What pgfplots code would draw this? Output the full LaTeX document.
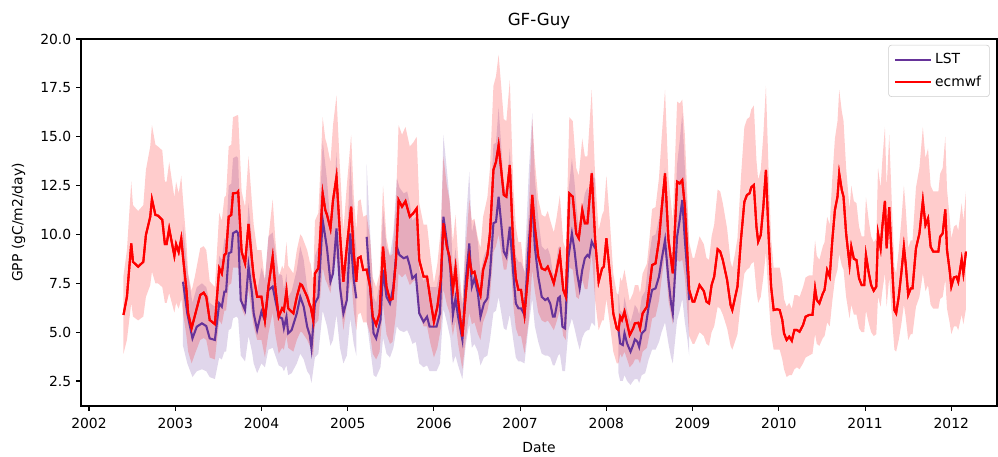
\documentclass[border=0pt]{standalone}
\usepackage{fontspec}
\setmainfont{DejaVu Sans}
\usepackage{pgfplots}
\usepackage{pgfplotstable}
\pgfplotsset{compat=1.18}
\definecolor{lstcol}{HTML}{663399}
\definecolor{ecred}{HTML}{FF0000}

\pgfplotstableread{
x v
2002.40 5.88
2002.44 6.81
2002.49 9.54
2002.51 8.60
2002.57 8.35
2002.63 8.60
2002.66 9.97
2002.71 10.90
2002.73 11.80
2002.77 11.00
2002.80 10.96
2002.85 10.74
2002.88 9.50
2002.90 9.50
2002.93 10.30
2002.99 8.90
2003.01 9.50
2003.04 9.10
2003.07 9.80
2003.09 8.86
2003.13 7.15
2003.15 5.96
2003.19 5.20
2003.23 5.88
2003.29 6.90
2003.33 7.02
2003.36 6.81
2003.40 5.62
2003.46 5.41
2003.51 8.27
2003.54 8.00
2003.57 8.95
2003.59 9.03
2003.62 10.90
2003.65 11.00
2003.67 12.10
2003.72 12.13
2003.73 12.19
2003.77 9.12
2003.81 8.52
2003.85 10.53
2003.89 8.69
2003.91 7.84
2003.95 6.81
2004.00 6.81
2004.04 5.62
2004.08 7.32
2004.13 8.86
2004.16 7.32
2004.20 5.79
2004.24 6.22
2004.26 6.10
2004.29 7.12
2004.31 6.22
2004.37 5.96
2004.41 6.81
2004.45 7.46
2004.47 7.40
2004.53 6.81
2004.56 6.39
2004.57 6.30
2004.60 5.62
2004.62 8.00
2004.66 8.27
2004.71 12.10
2004.74 11.25
2004.76 11.00
2004.80 10.30
2004.83 11.76
2004.87 12.95
2004.91 10.06
2004.95 7.58
2004.99 9.37
2005.04 11.42
2005.07 9.03
2005.10 7.58
2005.12 8.78
2005.15 8.86
2005.18 8.18
2005.22 8.20
2005.26 7.32
2005.29 5.79
2005.33 5.37
2005.37 5.96
2005.41 9.37
2005.45 7.32
2005.49 6.64
2005.52 6.70
2005.56 8.69
2005.59 11.76
2005.63 11.42
2005.67 11.70
2005.72 10.91
2005.76 11.08
2005.80 11.33
2005.83 8.69
2005.88 7.84
2005.92 7.84
2005.96 6.64
2006.00 5.53
2006.04 6.30
2006.08 7.67
2006.11 10.57
2006.15 9.37
2006.18 8.86
2006.22 7.16
2006.25 8.26
2006.28 6.64
2006.33 4.77
2006.37 6.98
2006.41 8.86
2006.44 8.01
2006.47 8.09
2006.51 7.33
2006.54 6.90
2006.57 8.18
2006.62 8.94
2006.65 10.05
2006.69 13.30
2006.72 13.72
2006.75 14.57
2006.78 13.30
2006.81 12.02
2006.84 11.93
2006.88 13.55
2006.92 9.37
2006.95 7.75
2006.98 7.16
2007.01 7.16
2007.05 5.88
2007.10 8.35
2007.14 12.02
2007.17 10.40
2007.21 8.86
2007.25 8.26
2007.29 8.18
2007.32 8.35
2007.35 8.01
2007.39 7.50
2007.42 8.10
2007.46 9.00
2007.50 7.16
2007.53 6.81
2007.57 12.10
2007.61 11.93
2007.65 10.05
2007.68 9.80
2007.72 11.25
2007.75 10.57
2007.78 10.57
2007.83 13.12
2007.87 9.71
2007.91 7.58
2007.95 8.26
2007.97 8.35
2008.00 9.80
2008.04 8.01
2008.08 5.96
2008.12 5.19
2008.14 5.11
2008.16 5.79
2008.18 5.62
2008.21 6.05
2008.24 5.45
2008.27 4.85
2008.31 5.19
2008.33 5.45
2008.37 5.48
2008.39 5.19
2008.42 5.96
2008.47 6.30
2008.50 7.33
2008.53 8.43
2008.57 8.52
2008.61 9.71
2008.64 11.25
2008.68 13.12
2008.72 9.71
2008.77 8.01
2008.82 12.70
2008.85 12.61
2008.88 12.78
2008.91 11.42
2008.96 7.16
2009.00 6.56
2009.02 6.56
2009.08 7.41
2009.13 7.10
2009.16 6.56
2009.19 6.47
2009.22 7.41
2009.25 7.84
2009.29 9.24
2009.32 9.12
2009.35 8.69
2009.40 7.67
2009.44 6.39
2009.46 6.13
2009.49 6.73
2009.52 7.33
2009.56 9.71
2009.60 11.67
2009.63 12.02
2009.66 12.10
2009.68 12.41
2009.71 12.53
2009.74 10.40
2009.76 9.63
2009.79 9.97
2009.82 11.42
2009.85 13.30
2009.88 10.05
2009.91 7.33
2009.94 6.13
2009.98 6.17
2010.01 6.13
2010.04 5.62
2010.06 4.94
2010.09 4.60
2010.12 4.77
2010.15 4.56
2010.18 5.11
2010.21 5.11
2010.24 5.02
2010.28 5.36
2010.31 5.79
2010.35 5.88
2010.39 5.88
2010.42 7.24
2010.44 6.64
2010.47 6.47
2010.51 6.98
2010.53 7.16
2010.56 8.18
2010.59 7.84
2010.62 9.71
2010.65 11.25
2010.68 11.93
2010.70 13.12
2010.73 12.27
2010.75 11.93
2010.78 10.05
2010.82 8.43
2010.84 9.37
2010.87 8.75
2010.90 8.69
2010.93 7.75
2010.96 7.41
2010.99 7.41
2011.01 8.95
2011.04 8.09
2011.07 7.41
2011.10 7.12
2011.13 7.33
2011.15 10.05
2011.18 9.29
2011.20 10.40
2011.23 11.71
2011.25 9.29
2011.28 11.39
2011.31 8.69
2011.34 6.13
2011.36 5.96
2011.39 6.81
2011.42 8.01
2011.45 9.37
2011.47 8.52
2011.50 6.90
2011.53 7.24
2011.55 7.24
2011.59 9.29
2011.63 10.05
2011.67 11.73
2011.70 10.48
2011.73 10.82
2011.76 9.37
2011.79 9.12
2011.82 9.12
2011.85 9.12
2011.87 9.88
2011.90 10.05
2011.93 11.28
2011.95 9.20
2011.98 8.18
2012.00 7.33
2012.03 7.80
2012.06 7.84
2012.08 7.58
2012.12 8.72
2012.14 8.01
2012.17 9.12
}\ecmwf

% ecmwf uncertainty band: upper edge forward, lower edge backward
\pgfplotstableread{
x y
2002.40 7.9
2002.44 9.2
2002.49 12.7
2002.51 11.5
2002.57 11.2
2002.63 11.5
2002.66 13.3
2002.71 14.5
2002.73 15.6
2002.77 14.6
2002.80 14.5
2002.85 14.3
2002.88 12.7
2002.90 12.7
2002.93 13.7
2002.99 11.9
2003.01 12.7
2003.04 12.1
2003.07 13.0
2003.09 11.8
2003.13 9.6
2003.15 8.0
2003.19 7.1
2003.23 7.9
2003.29 9.3
2003.33 9.4
2003.36 9.2
2003.40 7.6
2003.46 7.3
2003.51 11.1
2003.54 10.7
2003.57 11.9
2003.59 12.0
2003.62 14.5
2003.65 14.6
2003.67 16.0
2003.72 16.1
2003.73 16.1
2003.77 12.2
2003.81 11.4
2003.85 14.0
2003.89 11.6
2003.91 10.5
2003.95 9.2
2004.00 9.2
2004.04 7.6
2004.08 9.8
2004.13 11.8
2004.16 9.8
2004.20 7.8
2004.24 8.4
2004.26 8.2
2004.29 9.6
2004.31 8.4
2004.37 8.0
2004.41 9.2
2004.45 10.0
2004.47 9.9
2004.53 9.2
2004.56 8.6
2004.57 8.5
2004.60 7.6
2004.62 10.7
2004.66 11.1
2004.71 16.0
2004.74 14.9
2004.76 14.6
2004.80 13.7
2004.83 15.6
2004.87 17.1
2004.91 13.4
2004.95 10.2
2004.99 12.5
2005.04 15.1
2005.07 12.0
2005.10 10.2
2005.12 11.7
2005.15 11.8
2005.18 10.9
2005.22 11.0
2005.26 9.8
2005.29 7.8
2005.33 7.3
2005.37 8.0
2005.41 12.5
2005.45 9.8
2005.49 8.9
2005.52 9.0
2005.56 11.6
2005.59 15.6
2005.63 15.1
2005.67 15.5
2005.72 14.5
2005.76 14.7
2005.80 15.0
2005.83 11.6
2005.88 10.5
2005.92 10.5
2005.96 8.9
2006.00 7.5
2006.04 8.5
2006.08 10.3
2006.11 14.0
2006.15 12.5
2006.18 11.8
2006.22 9.6
2006.25 11.0
2006.28 8.9
2006.33 6.5
2006.37 9.4
2006.41 11.8
2006.44 10.7
2006.47 10.8
2006.51 9.8
2006.54 9.3
2006.57 10.9
2006.62 11.9
2006.65 13.4
2006.69 17.6
2006.72 18.1
2006.75 19.2
2006.78 17.6
2006.81 15.9
2006.84 15.8
2006.88 17.9
2006.92 12.5
2006.95 10.4
2006.98 9.6
2007.01 9.6
2007.05 7.9
2007.10 11.2
2007.14 15.9
2007.17 13.8
2007.21 11.8
2007.25 11.0
2007.29 10.9
2007.32 11.2
2007.35 10.7
2007.39 10.1
2007.42 10.8
2007.46 12.0
2007.50 9.6
2007.53 9.2
2007.57 16.0
2007.61 15.8
2007.65 13.4
2007.68 13.0
2007.72 14.9
2007.75 14.0
2007.78 14.0
2007.83 17.4
2007.87 12.9
2007.91 10.2
2007.95 11.0
2007.97 11.2
2008.00 13.0
2008.04 10.7
2008.08 8.0
2008.12 7.0
2008.14 6.9
2008.16 7.8
2008.18 7.6
2008.21 8.2
2008.24 7.4
2008.27 6.6
2008.31 7.0
2008.33 7.4
2008.37 7.4
2008.39 7.0
2008.42 8.0
2008.47 8.5
2008.50 9.8
2008.53 11.3
2008.57 11.4
2008.61 12.9
2008.64 14.9
2008.68 17.4
2008.72 12.9
2008.77 10.7
2008.82 16.8
2008.85 16.7
2008.88 16.9
2008.91 15.1
2008.96 9.6
2009.00 8.8
2009.02 8.8
2009.08 9.9
2009.13 9.5
2009.16 8.8
2009.19 8.7
2009.22 9.9
2009.25 10.5
2009.29 12.3
2009.32 12.2
2009.35 11.6
2009.40 10.3
2009.44 8.6
2009.46 8.3
2009.49 9.0
2009.52 9.8
2009.56 12.9
2009.60 15.5
2009.63 15.9
2009.66 16.0
2009.68 16.4
2009.71 16.6
2009.74 13.8
2009.76 12.8
2009.79 13.3
2009.82 15.1
2009.85 17.6
2009.88 13.4
2009.91 9.8
2009.94 8.3
2009.98 8.3
2010.01 8.3
2010.04 7.6
2010.06 6.7
2010.09 6.3
2010.12 6.5
2010.15 6.2
2010.18 6.9
2010.21 6.9
2010.24 6.8
2010.28 7.3
2010.31 7.8
2010.35 7.9
2010.39 7.9
2010.42 9.7
2010.44 8.9
2010.47 8.7
2010.51 9.4
2010.53 9.6
2010.56 10.9
2010.59 10.5
2010.62 12.9
2010.65 14.9
2010.68 15.8
2010.70 17.4
2010.73 16.3
2010.75 15.8
2010.78 13.4
2010.82 11.3
2010.84 12.5
2010.87 11.7
2010.90 11.6
2010.93 10.4
2010.96 9.9
2010.99 9.9
2011.01 11.9
2011.04 10.8
2011.07 9.9
2011.10 9.6
2011.13 9.8
2011.15 13.4
2011.18 12.4
2011.20 13.8
2011.23 15.5
2011.25 12.4
2011.28 15.1
2011.31 11.6
2011.34 8.3
2011.36 8.0
2011.39 9.2
2011.42 10.7
2011.45 12.5
2011.47 11.4
2011.50 9.3
2011.53 9.7
2011.55 9.7
2011.59 12.4
2011.63 13.4
2011.67 15.5
2011.70 13.9
2011.73 14.4
2011.76 12.5
2011.79 12.2
2011.82 12.2
2011.85 12.2
2011.87 13.1
2011.90 13.4
2011.93 15.0
2011.95 12.3
2011.98 10.9
2012.00 9.8
2012.03 10.4
2012.06 10.5
2012.08 10.2
2012.12 11.6
2012.14 10.7
2012.17 12.2
2012.17 6.2
2012.14 5.4
2012.12 5.9
2012.08 5.1
2012.06 5.3
2012.03 5.3
2012.00 4.9
2011.98 5.5
2011.95 6.2
2011.93 7.7
2011.90 6.8
2011.87 6.7
2011.85 6.2
2011.82 6.2
2011.79 6.2
2011.76 6.4
2011.73 7.4
2011.70 7.1
2011.67 8.0
2011.63 6.8
2011.59 6.3
2011.55 4.9
2011.53 4.9
2011.50 4.6
2011.47 5.8
2011.45 6.4
2011.42 5.4
2011.39 4.6
2011.36 4.0
2011.34 4.1
2011.31 5.9
2011.28 7.8
2011.25 6.3
2011.23 8.0
2011.20 7.1
2011.18 6.3
2011.15 6.8
2011.13 4.9
2011.10 4.8
2011.07 5.0
2011.04 5.5
2011.01 6.1
2010.99 5.0
2010.96 5.0
2010.93 5.2
2010.90 5.9
2010.87 5.9
2010.84 6.4
2010.82 5.7
2010.78 6.8
2010.75 8.2
2010.73 8.4
2010.70 9.0
2010.68 8.2
2010.65 7.7
2010.62 6.6
2010.59 5.3
2010.56 5.5
2010.53 4.8
2010.51 4.7
2010.47 4.3
2010.44 4.4
2010.42 4.9
2010.39 3.9
2010.35 3.8
2010.31 3.7
2010.28 3.4
2010.24 3.1
2010.21 3.2
2010.18 3.1
2010.15 2.8
2010.12 2.8
2010.09 2.7
2010.06 3.1
2010.04 3.6
2010.01 4.1
2009.98 4.1
2009.94 4.1
2009.91 4.9
2009.88 6.8
2009.85 9.1
2009.82 7.8
2009.79 6.8
2009.76 6.5
2009.74 7.1
2009.71 8.6
2009.68 8.5
2009.66 8.3
2009.63 8.2
2009.60 8.0
2009.56 6.6
2009.52 4.9
2009.49 4.5
2009.46 4.1
2009.44 4.3
2009.40 5.2
2009.35 5.9
2009.32 6.2
2009.29 6.3
2009.25 5.3
2009.22 5.0
2009.19 4.3
2009.16 4.4
2009.13 4.8
2009.08 5.0
2009.02 4.4
2009.00 4.4
2008.96 4.8
2008.91 7.8
2008.88 8.7
2008.85 8.6
2008.82 8.7
2008.77 5.4
2008.72 6.6
2008.68 9.0
2008.64 7.7
2008.61 6.6
2008.57 5.8
2008.53 5.7
2008.50 4.9
2008.47 4.2
2008.42 4.0
2008.39 3.4
2008.37 3.6
2008.33 3.6
2008.31 3.4
2008.27 3.2
2008.24 3.6
2008.21 4.0
2008.18 3.7
2008.16 3.9
2008.14 3.4
2008.12 3.4
2008.08 4.0
2008.04 5.4
2008.00 6.7
2007.97 5.6
2007.95 5.6
2007.91 5.1
2007.87 6.6
2007.83 9.0
2007.78 7.2
2007.75 7.2
2007.72 7.7
2007.68 6.7
2007.65 6.8
2007.61 8.2
2007.57 8.3
2007.53 4.6
2007.50 4.8
2007.46 6.1
2007.42 5.5
2007.39 5.1
2007.35 5.4
2007.32 5.6
2007.29 5.5
2007.25 5.6
2007.21 6.0
2007.17 7.1
2007.14 8.2
2007.10 5.6
2007.05 3.9
2007.01 4.8
2006.98 4.8
2006.95 5.2
2006.92 6.4
2006.88 9.3
2006.84 8.2
2006.81 8.2
2006.78 9.1
2006.75 10.0
2006.72 9.4
2006.69 9.1
2006.65 6.8
2006.62 6.1
2006.57 5.5
2006.54 4.6
2006.51 4.9
2006.47 5.5
2006.44 5.4
2006.41 6.0
2006.37 4.7
2006.33 3.1
2006.28 4.4
2006.25 5.6
2006.22 4.8
2006.18 6.0
2006.15 6.4
2006.11 7.2
2006.08 5.2
2006.04 4.2
2006.00 3.7
2005.96 4.4
2005.92 5.3
2005.88 5.3
2005.83 5.9
2005.80 7.7
2005.76 7.6
2005.72 7.4
2005.67 8.0
2005.63 7.8
2005.59 8.0
2005.56 5.9
2005.52 4.5
2005.49 4.4
2005.45 4.9
2005.41 6.4
2005.37 4.0
2005.33 3.6
2005.29 3.9
2005.26 4.9
2005.22 5.5
2005.18 5.5
2005.15 6.0
2005.12 5.9
2005.10 5.1
2005.07 6.1
2005.04 7.8
2004.99 6.4
2004.95 5.1
2004.91 6.8
2004.87 8.9
2004.83 8.0
2004.80 7.0
2004.76 7.5
2004.74 7.7
2004.71 8.3
2004.66 5.6
2004.62 5.4
2004.60 3.7
2004.57 4.2
2004.56 4.3
2004.53 4.6
2004.47 5.0
2004.45 5.0
2004.41 4.6
2004.37 4.0
2004.31 4.2
2004.29 4.8
2004.26 4.1
2004.24 4.2
2004.20 3.9
2004.16 4.9
2004.13 6.0
2004.08 4.9
2004.04 3.7
2004.00 4.6
2003.95 4.6
2003.91 5.3
2003.89 5.9
2003.85 7.2
2003.81 5.8
2003.77 6.2
2003.73 8.3
2003.72 8.3
2003.67 8.3
2003.65 7.5
2003.62 7.4
2003.59 6.1
2003.57 6.1
2003.54 5.4
2003.51 5.6
2003.46 3.6
2003.40 3.7
2003.36 4.6
2003.33 4.7
2003.29 4.6
2003.23 3.9
2003.19 3.4
2003.15 4.0
2003.13 4.8
2003.09 6.0
2003.07 6.7
2003.04 6.2
2003.01 6.5
2002.99 6.0
2002.93 7.0
2002.90 6.5
2002.88 6.5
2002.85 7.3
2002.80 7.5
2002.77 7.5
2002.73 8.1
2002.71 7.4
2002.66 6.8
2002.63 5.8
2002.57 5.6
2002.51 5.8
2002.49 6.5
2002.44 4.6
2002.40 3.9
}\ecband

\pgfplotstableread{
x v
2003.09 7.58
2003.14 5.96
2003.20 4.68
2003.25 5.28
2003.31 5.45
2003.36 5.31
2003.40 4.68
2003.46 4.60
2003.51 6.47
2003.54 6.30
2003.57 7.07
2003.59 7.07
2003.62 9.03
2003.65 9.10
2003.67 10.06
2003.71 10.17
2003.73 10.06
2003.76 6.64
2003.81 6.13
2003.85 8.38
2003.89 7.00
2003.91 5.96
2003.95 5.11
2004.00 6.05
2004.04 5.60
2004.08 7.15
2004.13 7.33
2004.20 5.79
2004.24 5.70
2004.26 5.20
2004.29 5.79
2004.31 4.94
2004.35 5.11
2004.41 5.96
2004.45 6.81
2004.49 6.30
2004.53 5.28
2004.56 4.85
2004.58 4.17
2004.62 6.47
2004.66 6.81
2004.71 10.74
2004.76 9.29
2004.80 7.58
2004.83 8.01
2004.87 10.31
2004.91 7.33
2004.95 5.96
2004.99 6.64
2005.03 10.05
2005.07 7.67
2005.10 6.73
}\lstA

\pgfplotstableread{
x y
2003.09 10.5
2003.14 8.2
2003.20 6.5
2003.25 7.3
2003.31 7.5
2003.36 7.3
2003.40 6.5
2003.46 6.3
2003.51 8.9
2003.54 8.7
2003.57 9.8
2003.59 9.8
2003.62 12.5
2003.65 12.6
2003.67 13.9
2003.71 14.0
2003.73 13.9
2003.76 9.2
2003.81 8.5
2003.85 11.6
2003.89 9.7
2003.91 8.2
2003.95 7.1
2004.00 8.3
2004.04 7.7
2004.08 9.9
2004.13 10.1
2004.20 8.0
2004.24 7.9
2004.26 7.2
2004.29 8.0
2004.31 6.8
2004.35 7.1
2004.41 8.2
2004.45 9.4
2004.49 8.7
2004.53 7.3
2004.56 6.7
2004.58 5.8
2004.62 8.9
2004.66 9.4
2004.71 14.8
2004.76 12.8
2004.80 10.5
2004.83 11.1
2004.87 14.2
2004.91 10.1
2004.95 8.2
2004.99 9.2
2005.03 13.9
2005.07 10.6
2005.10 9.3
2005.10 3.8
2005.07 4.4
2005.03 5.7
2004.99 3.8
2004.95 3.4
2004.91 4.2
2004.87 5.9
2004.83 4.6
2004.80 4.3
2004.76 5.3
2004.71 6.1
2004.66 3.9
2004.62 3.7
2004.58 2.4
2004.56 2.8
2004.53 3.0
2004.49 3.6
2004.45 3.9
2004.41 3.4
2004.35 2.9
2004.31 2.8
2004.29 3.3
2004.26 3.0
2004.24 3.2
2004.20 3.3
2004.13 4.2
2004.08 4.1
2004.04 3.2
2004.00 3.4
2003.95 2.9
2003.91 3.4
2003.89 4.0
2003.85 4.8
2003.81 3.5
2003.76 3.8
2003.73 5.7
2003.71 5.8
2003.67 5.7
2003.65 5.2
2003.62 5.1
2003.59 4.0
2003.57 4.0
2003.54 3.6
2003.51 3.7
2003.46 2.6
2003.40 2.7
2003.36 3.0
2003.31 3.1
2003.25 3.0
2003.20 2.7
2003.14 3.4
2003.09 4.3
}\lstAband

\pgfplotstableread{
x v
2005.22 9.88
2005.26 7.33
2005.30 4.94
2005.33 4.68
2005.38 5.62
2005.41 8.18
2005.45 6.81
2005.49 6.47
2005.53 7.33
2005.57 9.37
2005.60 8.95
2005.65 8.78
2005.69 8.86
2005.72 8.40
2005.75 7.75
2005.79 7.92
2005.83 5.96
2005.88 5.53
2005.92 5.79
2005.95 5.28
2006.03 5.28
2006.07 5.96
2006.11 10.91
2006.15 9.63
2006.19 8.26
2006.22 5.88
2006.25 6.73
2006.28 5.79
2006.33 4.60
2006.37 7.67
2006.41 9.54
2006.44 7.33
2006.47 7.75
2006.51 6.98
2006.54 5.79
2006.58 6.47
2006.62 6.73
2006.65 8.01
2006.69 10.57
2006.72 10.65
2006.75 11.93
2006.78 10.57
2006.81 9.12
2006.84 8.86
2006.88 10.40
2006.92 8.01
2006.95 6.47
2006.98 6.22
2007.01 6.22
2007.05 5.88
2007.10 9.54
2007.14 11.76
2007.17 9.37
2007.21 7.84
2007.25 6.81
2007.29 6.64
2007.32 6.73
2007.35 6.45
2007.38 5.79
2007.40 5.79
2007.44 6.73
2007.46 6.81
2007.49 5.28
2007.52 5.19
2007.56 8.86
2007.60 10.05
2007.63 9.20
2007.66 8.01
2007.69 7.24
2007.72 8.18
2007.75 8.78
2007.78 8.95
2007.80 8.86
2007.83 9.63
2007.87 9.29
}\lstB

\pgfplotstableread{
x y
2005.22 13.6
2005.26 10.1
2005.30 6.8
2005.33 6.5
2005.38 7.8
2005.41 11.3
2005.45 9.4
2005.49 8.9
2005.53 10.1
2005.57 12.9
2005.60 12.4
2005.65 12.1
2005.69 12.2
2005.72 11.6
2005.75 10.7
2005.79 10.9
2005.83 8.2
2005.88 7.6
2005.92 8.0
2005.95 7.3
2006.03 7.3
2006.07 8.2
2006.11 15.1
2006.15 13.3
2006.19 11.4
2006.22 8.1
2006.25 9.3
2006.28 8.0
2006.33 6.3
2006.37 10.6
2006.41 13.2
2006.44 10.1
2006.47 10.7
2006.51 9.6
2006.54 8.0
2006.58 8.9
2006.62 9.3
2006.65 11.1
2006.69 14.6
2006.72 14.7
2006.75 16.5
2006.78 14.6
2006.81 12.6
2006.84 12.2
2006.88 14.4
2006.92 11.1
2006.95 8.9
2006.98 8.6
2007.01 8.6
2007.05 8.1
2007.10 13.2
2007.14 16.2
2007.17 12.9
2007.21 10.8
2007.25 9.4
2007.29 9.2
2007.32 9.3
2007.35 8.9
2007.38 8.0
2007.40 8.0
2007.44 9.3
2007.46 9.4
2007.49 7.3
2007.52 7.2
2007.56 12.2
2007.60 13.9
2007.63 12.7
2007.66 11.1
2007.69 10.0
2007.72 11.3
2007.75 12.1
2007.78 12.4
2007.80 12.2
2007.83 13.3
2007.87 12.8
2007.87 5.3
2007.83 5.5
2007.80 5.1
2007.78 5.1
2007.75 5.0
2007.72 4.7
2007.69 4.1
2007.66 4.6
2007.63 5.2
2007.60 5.7
2007.56 5.1
2007.52 3.0
2007.49 3.0
2007.46 3.9
2007.44 3.8
2007.40 3.3
2007.38 3.3
2007.35 3.7
2007.32 3.8
2007.29 3.8
2007.25 3.9
2007.21 4.5
2007.17 5.3
2007.14 6.7
2007.10 5.4
2007.05 3.4
2007.01 3.5
2006.98 3.5
2006.95 3.7
2006.92 4.6
2006.88 5.9
2006.84 5.1
2006.81 5.2
2006.78 6.0
2006.75 6.8
2006.72 6.1
2006.69 6.0
2006.65 4.6
2006.62 3.8
2006.58 3.7
2006.54 3.3
2006.51 4.0
2006.47 4.4
2006.44 4.2
2006.41 5.4
2006.37 4.4
2006.33 2.6
2006.28 3.3
2006.25 3.8
2006.22 3.4
2006.19 4.7
2006.15 5.5
2006.11 6.2
2006.07 3.4
2006.03 3.0
2005.95 3.0
2005.92 3.3
2005.88 3.2
2005.83 3.4
2005.79 4.5
2005.75 4.4
2005.72 4.8
2005.69 5.1
2005.65 5.0
2005.60 5.1
2005.57 5.3
2005.53 4.2
2005.49 3.7
2005.45 3.9
2005.41 4.7
2005.38 3.2
2005.33 2.7
2005.30 2.8
2005.26 4.2
2005.22 5.6
}\lstBband

\pgfplotstableread{
x v
2008.14 5.11
2008.16 4.42
2008.19 4.34
2008.21 4.94
2008.24 4.42
2008.28 4.00
2008.31 4.34
2008.33 4.63
2008.36 4.51
2008.38 4.25
2008.41 4.94
2008.45 5.11
2008.49 6.30
2008.53 7.16
2008.57 7.24
2008.61 7.84
2008.64 8.69
2008.68 9.71
2008.72 7.67
2008.75 6.47
2008.77 5.96
2008.82 9.88
2008.85 10.74
2008.88 11.76
2008.91 9.71
2008.94 8.01
2008.96 6.64
}\lstC

\pgfplotstableread{
x y
2008.14 7.1
2008.16 6.1
2008.19 6.0
2008.21 6.8
2008.24 6.1
2008.28 5.5
2008.31 6.0
2008.33 6.4
2008.36 6.2
2008.38 5.9
2008.41 6.8
2008.45 7.1
2008.49 8.7
2008.53 9.9
2008.57 10.0
2008.61 10.8
2008.64 12.0
2008.68 13.4
2008.72 10.6
2008.75 8.9
2008.77 8.2
2008.82 13.6
2008.85 14.8
2008.88 16.2
2008.91 13.4
2008.94 11.1
2008.96 9.2
2008.96 3.8
2008.94 4.6
2008.91 5.5
2008.88 6.7
2008.85 6.1
2008.82 5.6
2008.77 3.4
2008.75 3.7
2008.72 4.4
2008.68 5.5
2008.64 5.0
2008.61 4.5
2008.57 4.1
2008.53 4.1
2008.49 3.6
2008.45 2.9
2008.41 2.8
2008.38 2.4
2008.36 2.6
2008.33 2.6
2008.31 2.5
2008.28 2.3
2008.24 2.5
2008.21 2.8
2008.19 2.5
2008.16 2.5
2008.14 2.9
}\lstCband

\begin{document}
\begin{tikzpicture}
\path[use as bounding box] (-58.3pt,-36.7pt) rectangle (660.2pt,292.3pt);
\begin{axis}[
  at={(0,0)}, anchor=south west,
  scale only axis,
  width=659.5pt, height=264.2pt,
  xmin=2001.907, xmax=2012.53,
  ymin=1.22, ymax=20,
  axis line style={line width=0.8pt},
  tick align=outside,
  xtick pos=bottom, ytick pos=left,
  major tick length=3.5pt,
  every tick/.style={black, line width=0.8pt},
  xtick={2002,2003,2004,2005,2006,2007,2008,2009,2010,2011,2012},
  xticklabels={2002,2003,2004,2005,2006,2007,2008,2009,2010,2011,2012},
  ytick={2.5,5,7.5,10,12.5,15,17.5,20},
  yticklabels={2.5,5.0,7.5,10.0,12.5,15.0,17.5,20.0},
  ticklabel style={font=\fontsize{10}{12}\selectfont},
  xticklabel style={yshift=-2pt},
  xlabel={Date},
  ylabel={GPP (gC/m2/day)},
  label style={font=\fontsize{10}{12}\selectfont},
  xlabel style={yshift=-3pt},
  ylabel style={yshift=4pt},
  title={GF-Guy},
  title style={font=\fontsize{12}{14}\selectfont, yshift=-2pt},
  legend style={at={(0.992,0.984)}, anchor=north east,
    draw=black!20, rounded corners=2pt, fill=white,
    font=\fontsize{10}{12}\selectfont, inner xsep=4pt, inner ysep=4pt, row sep=3pt},
  legend cell align=left,
  legend image code/.code={\draw[#1] (0pt,0pt) -- (26pt,0pt);},
]
\addplot[fill=lstcol, fill opacity=0.2, draw=none, forget plot] table[x=x,y=y]{\lstAband};
\addplot[fill=lstcol, fill opacity=0.2, draw=none, forget plot] table[x=x,y=y]{\lstBband};
\addplot[fill=lstcol, fill opacity=0.2, draw=none, forget plot] table[x=x,y=y]{\lstCband};
\addplot[fill=ecred, fill opacity=0.2, draw=none, forget plot] table[x=x,y=y]{\ecband};

\addplot[lstcol, line width=1.5pt] table[x=x,y=v]{\lstA};
\addlegendentry{LST}
\addplot[ecred, line width=1.5pt] table[x=x,y=v]{\ecmwf};
\addlegendentry{ecmwf}
\addplot[lstcol, line width=1.5pt, forget plot] table[x=x,y=v]{\lstB};
\addplot[lstcol, line width=1.5pt, forget plot] table[x=x,y=v]{\lstC};
\addplot[ecred, line width=1.5pt, forget plot] table[x=x,y=v]{\ecmwf};
\end{axis}
\end{tikzpicture}
\end{document}
